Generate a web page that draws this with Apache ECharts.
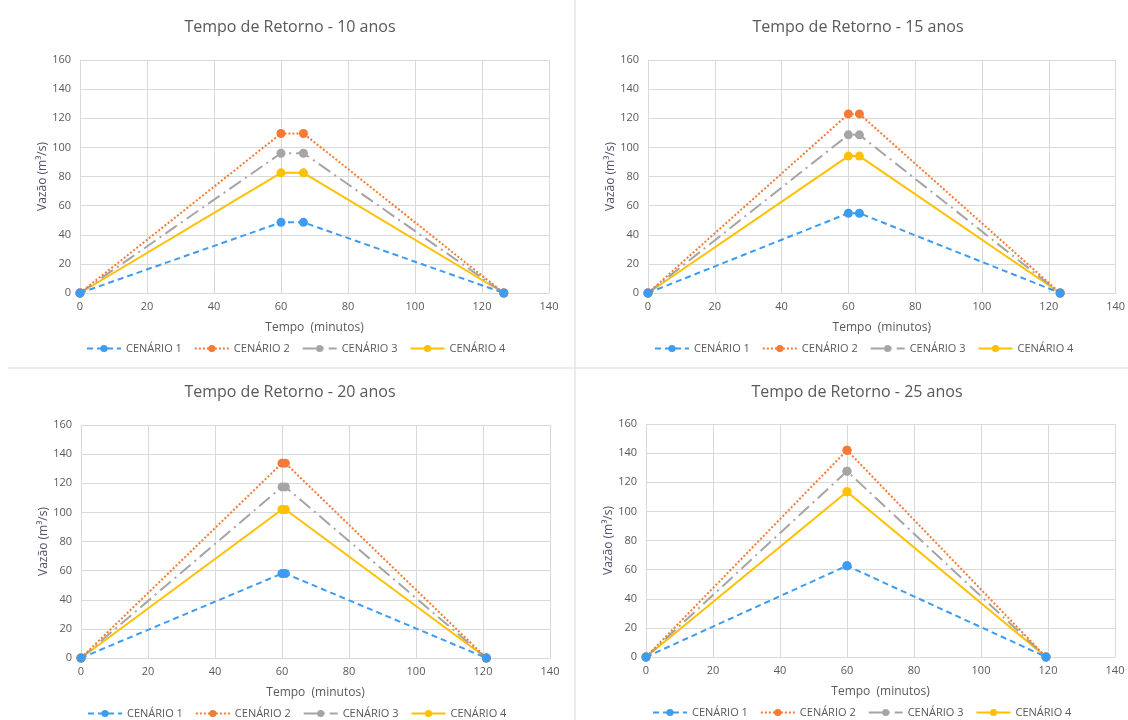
<!DOCTYPE html>
<html>
<head>
<meta charset="utf-8">
<script src="https://cdn.jsdelivr.net/npm/echarts@6/dist/echarts.min.js"></script>
<style>
  html, body { margin: 0; padding: 0; background: #fff; }
  #chart { width: 1128px; height: 720px; }
</style>
</head>
<body>
<div id="chart"></div>
<script>
// dados (tempo em minutos, vazão em m³/s)
const titles = ['Tempo de Retorno - 10 anos', 'Tempo de Retorno - 15 anos', 'Tempo de Retorno - 20 anos', 'Tempo de Retorno - 25 anos'];
const names = ['CENÁRIO 1', 'CENÁRIO 2', 'CENÁRIO 3', 'CENÁRIO 4'];

const tempo10 = [0, 60, 66.7, 126.5];
const tempo15 = [0, 60, 63.3, 123.4];
const tempo20 = [0, 60, 61, 121];
const tempo25 = [0, 60, 60, 119.4];

const pico10 = [48.5, 109.5, 96, 82.5];
const pico15 = [54.8, 123, 108.6, 94];
const pico20 = [58, 133.8, 117.5, 102];
const pico25 = [62.7, 142, 127.6, 113.5];

const tempos = [tempo10, tempo15, tempo20, tempo25];
const picos = [pico10, pico15, pico20, pico25];

const colors = ['#3d9cf0', '#f47a35', '#a5a5a5', '#ffc000'];
const lineTypes = [[6, 4], [2, 2], [14, 5, 2, 5], 'solid'];

// posição de cada painel
const panels = [
  { left: 80, top: 60, cx: 285, ty: 14, lx: 86, ly: 343 },
  { left: 648, top: 60, cx: 853, ty: 14, lx: 654, ly: 343 },
  { left: 81, top: 425, cx: 285, ty: 379, lx: 87, ly: 708 },
  { left: 646, top: 424, cx: 852, ty: 379, lx: 652, ly: 707 }
];
const gw = 469, gh = 233;
const txt = '#595959';
const font = '"Open Sans", Lato, sans-serif';

const option = {
  backgroundColor: '#fff',
  textStyle: { fontFamily: font },
  title: [], grid: [], xAxis: [], yAxis: [], legend: [], series: [],
  graphic: [
    { type: 'line', shape: { x1: 575, y1: 0, x2: 575, y2: 720 }, style: { stroke: '#d9d9d9', lineWidth: 1 } },
    { type: 'line', shape: { x1: 8, y1: 368, x2: 1128, y2: 368 }, style: { stroke: '#d9d9d9', lineWidth: 1 } }
  ]
};

panels.forEach((p, i) => {
  option.title.push({
    text: titles[i], left: p.cx, top: p.ty, textAlign: 'center',
    textStyle: { fontFamily: font, fontSize: 16, fontWeight: 'normal', color: txt }
  });
  option.grid.push({ left: p.left, top: p.top, width: gw, height: gh });
  option.xAxis.push({
    type: 'value', gridIndex: i, min: 0, max: 140, interval: 20,
    name: 'Tempo  (minutos)', nameLocation: 'middle', nameGap: 29,
    nameTextStyle: { color: txt, fontSize: 12, fontFamily: font },
    axisLine: { show: true, lineStyle: { color: '#d9d9d9' } },
    axisTick: { show: false },
    axisLabel: { color: txt, fontSize: 11, margin: 8, fontFamily: font },
    splitLine: { show: true, lineStyle: { color: '#d9d9d9' } }
  });
  option.yAxis.push({
    type: 'value', gridIndex: i, min: 0, max: 160, interval: 20,
    name: 'Vazão (m³/s)', nameLocation: 'middle', nameGap: 30,
    nameTextStyle: { color: '#5a4f6e', fontSize: 12, fontFamily: font },
    axisLine: { show: false }, axisTick: { show: false },
    axisLabel: { color: txt, fontSize: 11, margin: 9, fontFamily: font },
    splitLine: { show: true, lineStyle: { color: '#d9d9d9' } }
  });
  option.legend.push({
    data: names, left: p.lx, top: p.ly, padding: 0,
    itemWidth: 34, itemHeight: 9, itemGap: 12,
    textStyle: { color: txt, fontSize: 11, fontFamily: font }
  });
  names.forEach((n, k) => {
    const t = tempos[i];
    const peak = picos[i][k];
    option.series.push({
      name: n, type: 'line', xAxisIndex: i, yAxisIndex: i,
      data: [[t[0], 0], [t[1], peak], [t[2], peak], [t[3], 0]],
      symbol: 'circle', symbolSize: 9,
      itemStyle: { color: colors[k] },
      lineStyle: { color: colors[k], width: 2, type: lineTypes[k] },
      z: 10 - k,
      animation: false
    });
  });
});

const chart = echarts.init(document.getElementById('chart'));
chart.setOption(option);
</script>
</body>
</html>
